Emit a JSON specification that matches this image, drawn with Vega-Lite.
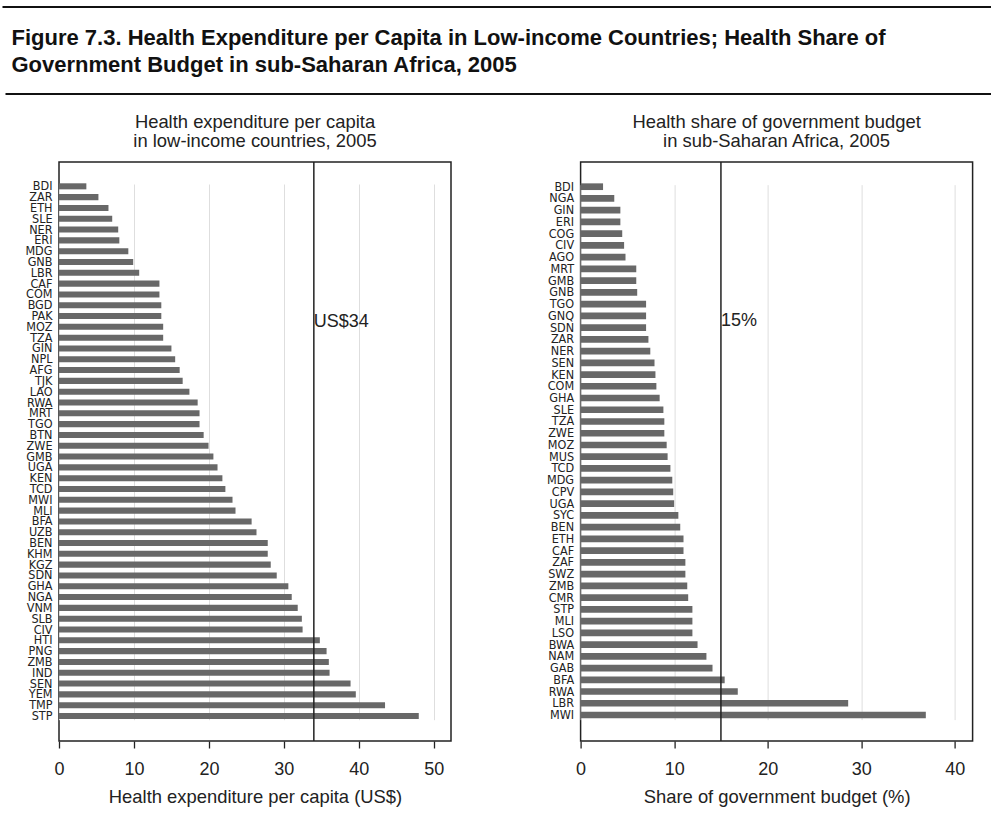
{
  "$schema": "https://vega.github.io/schema/vega-lite/v6.json",
  "background": "white",
  "padding": {"left": 0, "top": 6, "right": 0, "bottom": 0},
  "autosize": {"type": "pad"},
  "config": {
    "font": "Liberation Sans",
    "view": {"stroke": "#222", "strokeWidth": 1.5},
    "axisY": {
      "labelFont": "DejaVu Sans Condensed, Liberation Sans, sans-serif",
      "labelFontSize": 12.5,
      "labelColor": "#222",
      "labelPadding": 7,
      "labelOverlap": false,
      "labelBound": false,
      "ticks": false,
      "domain": false,
      "grid": false,
      "title": null
    },
    "axisX": {
      "labelFontSize": 18,
      "labelColor": "#222",
      "labelPadding": 12.5,
      "labelFlush": false,
      "labelOverlap": false,
      "ticks": true,
      "tickSize": 7,
      "tickColor": "#222",
      "tickWidth": 1.3,
      "domain": false,
      "grid": true,
      "gridColor": "#dedede",
      "gridWidth": 1,
      "titleFontSize": 18.4,
      "titleFontWeight": "normal",
      "titleColor": "#222",
      "titlePadding": 9
    },
    "title": {"fontSize": 18.4, "fontWeight": "normal", "color": "#222", "lineHeight": 19, "offset": 11, "anchor": "middle"}
  },
  "datasets": {
    "spending": [
      {"country": "BDI", "value": 3.65},
      {"country": "ZAR", "value": 5.26},
      {"country": "ETH", "value": 6.6},
      {"country": "SLE", "value": 7.1},
      {"country": "NER", "value": 7.9},
      {"country": "ERI", "value": 8.05},
      {"country": "MDG", "value": 9.25},
      {"country": "GNB", "value": 9.9},
      {"country": "LBR", "value": 10.7},
      {"country": "CAF", "value": 13.4},
      {"country": "COM", "value": 13.4},
      {"country": "BGD", "value": 13.65},
      {"country": "PAK", "value": 13.65},
      {"country": "MOZ", "value": 13.9},
      {"country": "TZA", "value": 13.9},
      {"country": "GIN", "value": 15.0},
      {"country": "NPL", "value": 15.5},
      {"country": "AFG", "value": 16.1},
      {"country": "TJK", "value": 16.5},
      {"country": "LAO", "value": 17.4},
      {"country": "RWA", "value": 18.5},
      {"country": "MRT", "value": 18.75},
      {"country": "TGO", "value": 18.75},
      {"country": "BTN", "value": 19.3},
      {"country": "ZWE", "value": 19.95},
      {"country": "GMB", "value": 20.6},
      {"country": "UGA", "value": 21.15},
      {"country": "KEN", "value": 21.8},
      {"country": "TCD", "value": 22.2},
      {"country": "MWI", "value": 23.15},
      {"country": "MLI", "value": 23.55},
      {"country": "BFA", "value": 25.7},
      {"country": "UZB", "value": 26.35},
      {"country": "BEN", "value": 27.85},
      {"country": "KHM", "value": 27.85},
      {"country": "KGZ", "value": 28.25},
      {"country": "SDN", "value": 29.05},
      {"country": "GHA", "value": 30.6},
      {"country": "NGA", "value": 31.05},
      {"country": "VNM", "value": 31.85},
      {"country": "SLB", "value": 32.4},
      {"country": "CIV", "value": 32.5},
      {"country": "HTI", "value": 34.8},
      {"country": "PNG", "value": 35.7},
      {"country": "ZMB", "value": 36.0},
      {"country": "IND", "value": 36.1},
      {"country": "SEN", "value": 38.9},
      {"country": "YEM", "value": 39.6},
      {"country": "TMP", "value": 43.5},
      {"country": "STP", "value": 48.0}
    ],
    "budget": [
      {"country": "BDI", "value": 2.4},
      {"country": "NGA", "value": 3.6},
      {"country": "GIN", "value": 4.25},
      {"country": "ERI", "value": 4.25},
      {"country": "COG", "value": 4.45},
      {"country": "CIV", "value": 4.65},
      {"country": "AGO", "value": 4.8},
      {"country": "MRT", "value": 5.95},
      {"country": "GMB", "value": 5.95},
      {"country": "GNB", "value": 6.05},
      {"country": "TGO", "value": 7.0},
      {"country": "GNQ", "value": 7.0},
      {"country": "SDN", "value": 7.0},
      {"country": "ZAR", "value": 7.25},
      {"country": "NER", "value": 7.45},
      {"country": "SEN", "value": 7.9},
      {"country": "KEN", "value": 8.0},
      {"country": "COM", "value": 8.1},
      {"country": "GHA", "value": 8.45},
      {"country": "SLE", "value": 8.85},
      {"country": "TZA", "value": 8.95},
      {"country": "ZWE", "value": 8.95},
      {"country": "MOZ", "value": 9.2},
      {"country": "MUS", "value": 9.3},
      {"country": "TCD", "value": 9.6},
      {"country": "MDG", "value": 9.8},
      {"country": "CPV", "value": 9.9},
      {"country": "UGA", "value": 10.0},
      {"country": "SYC", "value": 10.45},
      {"country": "BEN", "value": 10.65},
      {"country": "ETH", "value": 11.0},
      {"country": "CAF", "value": 11.0},
      {"country": "ZAF", "value": 11.2},
      {"country": "SWZ", "value": 11.2},
      {"country": "ZMB", "value": 11.4},
      {"country": "CMR", "value": 11.5},
      {"country": "STP", "value": 11.95},
      {"country": "MLI", "value": 11.95},
      {"country": "LSO", "value": 11.95},
      {"country": "BWA", "value": 12.5},
      {"country": "NAM", "value": 13.45},
      {"country": "GAB", "value": 14.1},
      {"country": "BFA", "value": 15.4},
      {"country": "RWA", "value": 16.8},
      {"country": "LBR", "value": 28.6},
      {"country": "MWI", "value": 36.9}
    ]
  },
  "spacing": 16,
  "vconcat": [
    {
      "width": 934.5,
      "height": 87,
      "view": {"stroke": null},
      "data": {"values": [{}]},
      "layer": [
        {
          "mark": {"type": "rule", "strokeWidth": 2, "color": "#111"},
          "encoding": {
            "x": {"datum": 0, "type": "quantitative", "scale": {"domain": [0, 991], "range": [-56.5, 934.5], "nice": false, "zero": false}, "axis": null},
            "x2": {"datum": 991},
            "y": {"datum": 1, "type": "quantitative", "scale": {"domain": [0, 1], "nice": false, "zero": false}, "axis": null}
          }
        },
        {
          "mark": {"type": "rule", "strokeWidth": 2.2, "color": "#111"},
          "encoding": {
            "x": {"datum": 3, "type": "quantitative"},
            "x2": {"datum": 991},
            "y": {"datum": 0, "type": "quantitative"}
          }
        },
        {
          "mark": {
            "type": "text",
            "align": "left",
            "baseline": "top",
            "font": "Liberation Sans",
            "fontSize": 22,
            "fontWeight": "bold",
            "lineHeight": 27.5,
            "color": "#111",
            "text": [
              "Figure 7.3. Health Expenditure per Capita in Low-income Countries; Health Share of",
              "Government Budget in sub-Saharan Africa, 2005"
            ]
          },
          "encoding": {
            "x": {"datum": 9, "type": "quantitative"},
            "y": {"datum": 0.763, "type": "quantitative"}
          }
        }
      ]
    },
    {
      "spacing": 87.6,
      "hconcat": [
        {
          "width": 392,
          "height": 579,
          "title": {"text": ["Health expenditure per capita", "in low-income countries, 2005"]},
          "data": {"name": "spending"},
          "layer": [
            {
              "mark": {"type": "bar", "color": "#686868"},
              "encoding": {
                "y": {
                  "field": "country",
                  "type": "nominal",
                  "sort": null,
                  "scale": {"paddingInner": 0.44, "paddingOuter": 0, "range": [21.3, 557]},
                  "axis": {"minExtent": 57.5}
                },
                "x": {
                  "field": "value",
                  "type": "quantitative",
                  "scale": {"domain": [0, 52.3], "nice": false},
                  "axis": {"values": [0, 10, 20, 30, 40, 50], "title": "Health expenditure per capita (US$)"}
                }
              }
            },
            {
              "data": {"values": [{}]},
              "mark": {"type": "rule", "color": "#222", "strokeWidth": 1.5},
              "encoding": {"x": {"datum": 34, "type": "quantitative"}}
            },
            {
              "transform": [{"filter": "datum.country === 'PAK'"}],
              "mark": {"type": "text", "align": "left", "baseline": "alphabetic", "dx": 0, "dy": 11, "fontSize": 18, "color": "#222"},
              "encoding": {
                "x": {"datum": 34, "type": "quantitative"},
                "y": {"field": "country", "type": "nominal", "sort": null},
                "text": {"value": "US$34"}
              }
            }
          ]
        },
        {
          "width": 392,
          "height": 579,
          "title": {"text": ["Health share of government budget", "in sub-Saharan Africa, 2005"]},
          "data": {"name": "budget"},
          "layer": [
            {
              "mark": {"type": "bar", "color": "#686868"},
              "encoding": {
                "y": {
                  "field": "country",
                  "type": "nominal",
                  "sort": null,
                  "scale": {"paddingInner": 0.43, "paddingOuter": 0, "range": [21.35, 556.35]},
                  "axis": {"minExtent": 40}
                },
                "x": {
                  "field": "value",
                  "type": "quantitative",
                  "scale": {"domain": [0, 41.9], "nice": false},
                  "axis": {"values": [0, 10, 20, 30, 40], "title": "Share of government budget (%)"}
                }
              }
            },
            {
              "data": {"values": [{}]},
              "mark": {"type": "rule", "color": "#222", "strokeWidth": 1.5},
              "encoding": {"x": {"datum": 15, "type": "quantitative"}}
            },
            {
              "transform": [{"filter": "datum.country === 'GNQ'"}],
              "mark": {"type": "text", "align": "left", "baseline": "alphabetic", "dx": 0, "dy": 10.5, "fontSize": 18, "color": "#222"},
              "encoding": {
                "x": {"datum": 15, "type": "quantitative"},
                "y": {"field": "country", "type": "nominal", "sort": null},
                "text": {"value": "15%"}
              }
            }
          ]
        }
      ]
    }
  ]
}
